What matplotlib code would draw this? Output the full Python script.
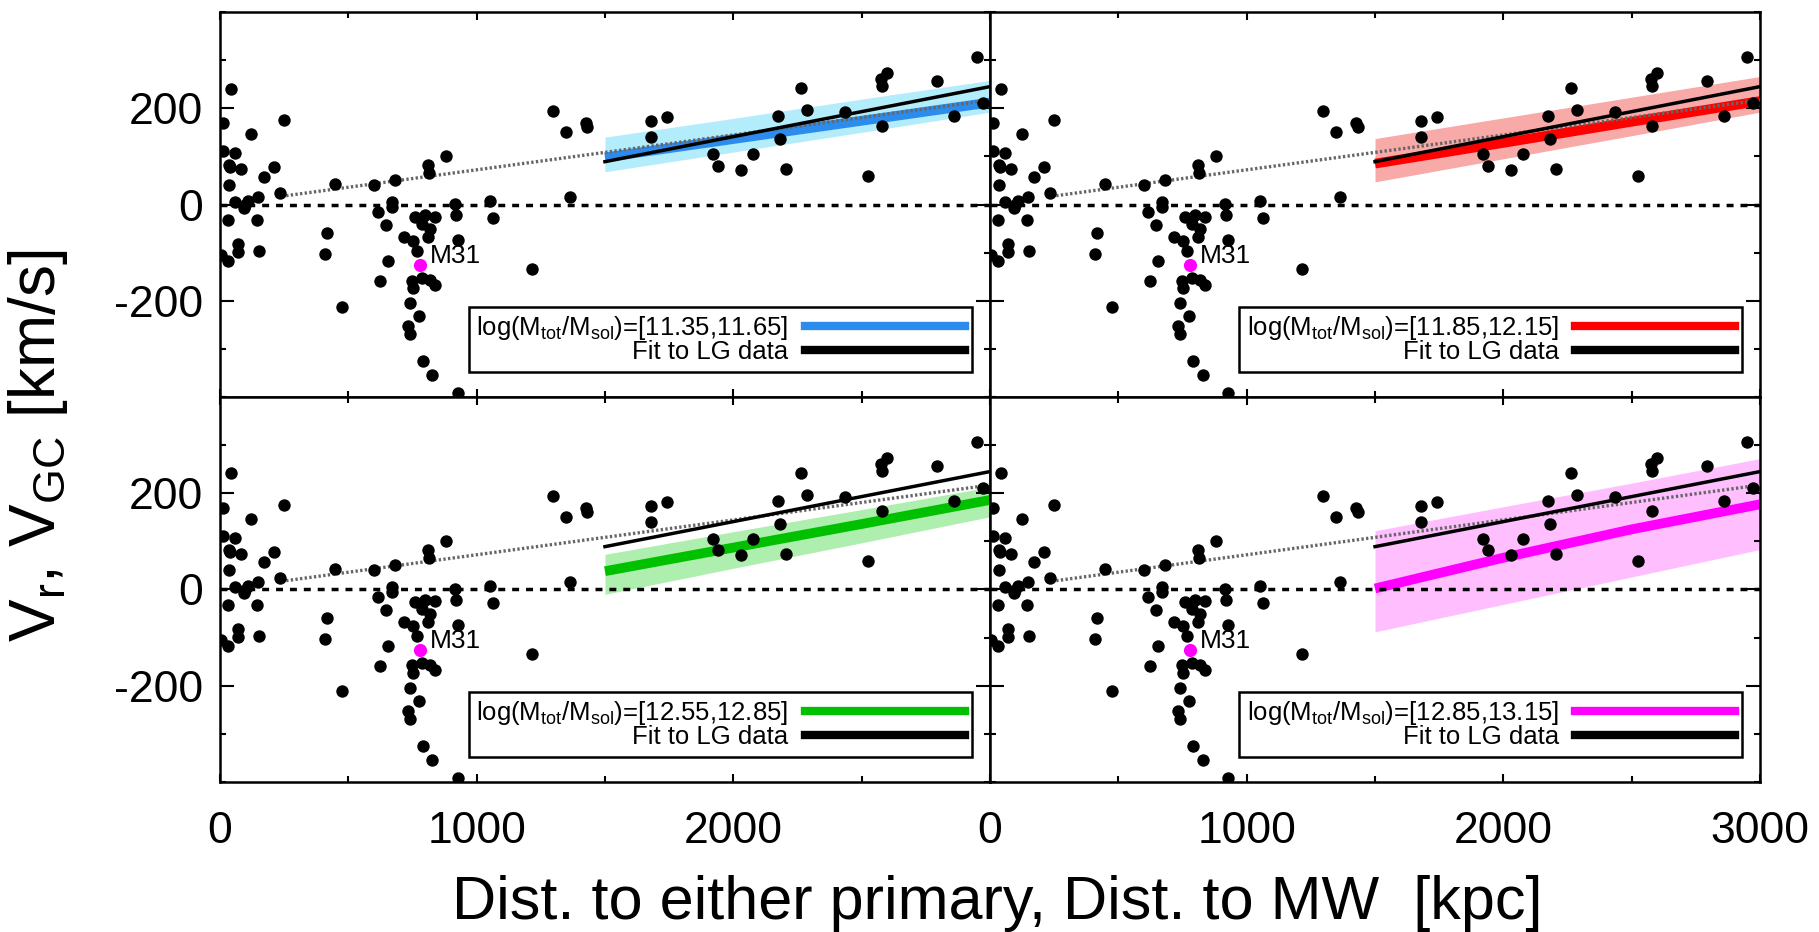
import matplotlib
matplotlib.use('Agg')
import matplotlib.pyplot as plt
from matplotlib.lines import Line2D
from matplotlib.ticker import MultipleLocator

plt.rcParams['font.family'] = ['Liberation Sans', 'DejaVu Sans']
plt.rcParams['mathtext.fontset'] = 'custom'
plt.rcParams['mathtext.rm'] = 'Liberation Sans'
plt.rcParams['mathtext.it'] = 'Liberation Sans:italic'
plt.rcParams['axes.unicode_minus'] = False

# Local Group galaxies: distance [kpc], velocity [km/s]
dist_kpc = [43, 13, 250, 123, 13, 58, 39, 82, 35, 212, 171, 35, 234, 149, 110, 58,
            97, 95, 32, 143, 71, 71, 153, 32, 5,
            448, 416, 409, 477, 601, 682, 671, 669, 614, 648, 718, 656, 623,
            812, 816, 879, 915, 919, 928, 1052, 1062, 1214,
            760, 799, 838, 786, 818, 753, 812, 766,
            747, 786, 818, 838, 753, 740, 776, 734, 740, 790, 828, 928,
            1299, 1348, 1426, 1432, 1364,
            1678, 1740, 1678, 1922, 1941, 2030, 2078, 2175, 2182, 2204, 2262,
            2288, 2435, 2523, 2575, 2597, 2580, 2580, 2792, 2859, 2950, 2974]
vel_kms = [241, 169, 175, 146, 112, 107, 78, 74, 83, 78, 57, 40, 24, 15, 7, 5,
           -1, -7, -33, -33, -83, -99, -96, -118, -105,
           43, -59, -103, -212, 41, 50, 5, -5, -16, -42, -68, -117, -160,
           83, 66, 100, 1, -21, -74, 8, -28, -135,
           -26, -21, -25, -40, -51, -75, -68, -96,
           -158, -153, -157, -167, -174, -204, -231, -252, -269, -325, -355, -391,
           194, 151, 169, 161, 15,
           174, 181, 140, 104, 81, 72, 104, 183, 137, 74, 243,
           196, 192, 60, 260, 274, 246, 164, 257, 184, 307, 211]
m31_kpc = 779
m31_kms = -125

# fit to LG data and Hubble-flow line
fit_x = [1500, 3000]
fit_v = [89, 245]
hubble_x = [240, 3000]
hubble_v = [17, 217]

# simulated relations for each mass bin
model_x = [1500, 2000, 2500, 3000]
mass_bins = ['[11.35,11.65]', '[11.85,12.15]', '[12.55,12.85]', '[12.85,13.15]']
model_mid = [[98, 136, 174, 212],
             [85, 128, 172, 215],
             [38, 87, 136, 186],
             [2, 66, 125, 177]]
model_lo = [[68, 109, 150, 192],
            [47, 95, 143, 192],
            [-10, 44, 97, 151],
            [-88, -31, 26, 83]]
model_hi = [[140, 179, 219, 258],
            [137, 180, 223, 266],
            [73, 120, 166, 213],
            [122, 172, 221, 272]]
line_cols = ['#2b8cee', '#ff0000', '#00c000', '#ff00ff']
band_cols = ['#b3ecfb', '#f8aaa8', '#aeeeae', '#ffbfff']

fig, axs = plt.subplots(2, 2, figsize=(18.19, 9.32), dpi=100)
fig.subplots_adjust(left=0.1209, right=0.9676, top=0.9871, bottom=0.161,
                    wspace=0, hspace=0)

for k, ax in enumerate(axs.flat):
    row, col = divmod(k, 2)
    ax.fill_between(model_x, model_lo[k], model_hi[k], color=band_cols[k], lw=0, zorder=1)
    ax.plot(model_x, model_mid[k], color=line_cols[k], lw=7, solid_capstyle='butt', zorder=2)
    ax.plot(hubble_x, hubble_v, color='0.4', ls=(0, (0.7, 0.7)), lw=2.4, zorder=3)
    ax.axhline(0, color='k', ls=(0, (2, 2)), lw=2.5, zorder=3)
    ax.plot(fit_x, fit_v, color='k', lw=2.5, zorder=4)
    ax.scatter(dist_kpc, vel_kms, s=80, c='k', lw=0, zorder=5)
    ax.scatter([m31_kpc], [m31_kms], s=90, c='#ff00ff', lw=0, zorder=6)
    ax.annotate('M31', (m31_kpc, m31_kms), xytext=(7, 6.5), textcoords='offset points',
                fontsize=19, ha='left', va='center', zorder=7)

    handles = [Line2D([], [], color=line_cols[k], lw=6),
               Line2D([], [], color='k', lw=6)]
    labels = [r'log(M$_\mathrm{tot}$/M$_\mathrm{sol}$)=' + mass_bins[k], 'Fit to LG data']
    leg = ax.legend(handles, labels, loc='lower right', bbox_to_anchor=(0.977, 0.066),
                    borderaxespad=0, markerfirst=False, fontsize=18.5, handlelength=6.2,
                    handletextpad=0.65, borderpad=0.3, labelspacing=-0.1,
                    fancybox=False, framealpha=1, edgecolor='k')
    leg.get_frame().set_linewidth(1.8)
    leg.set_zorder(10)

    ax.set_xlim(0, 3000)
    ax.set_ylim(-400, 400)
    ax.set_xticks([0, 1000, 2000, 3000])
    ax.xaxis.set_minor_locator(MultipleLocator(500))
    ax.set_yticks([-200, 0, 200])
    ax.yaxis.set_minor_locator(MultipleLocator(100))
    ax.tick_params(which='both', direction='in', top=True, right=True, width=1.5)
    ax.tick_params(axis='x', which='major', length=6, labelsize=32, pad=21)
    ax.tick_params(axis='x', which='minor', length=4.5)
    ax.tick_params(axis='y', which='major', length=10, labelsize=32, pad=12)
    ax.tick_params(axis='y', which='minor', length=4.5)
    for sp in ax.spines.values():
        sp.set_linewidth(1.8)

    if row == 0:
        ax.set_xticklabels([])
    elif col == 0:
        ax.set_xticklabels(['0', '1000', '2000', ''])
    if col == 1:
        ax.set_yticklabels([])

fig.text(0.021, 0.522, r'V$_\mathrm{r}$, V$_\mathrm{GC}$ [km/s]', rotation=90,
         ha='center', va='center', fontsize=46)
fig.text(0.2485, 0.014, 'Dist. to either primary, Dist. to MW  [kpc]',
         ha='left', va='baseline', fontsize=44)

fig.savefig('out.png', dpi=100)
